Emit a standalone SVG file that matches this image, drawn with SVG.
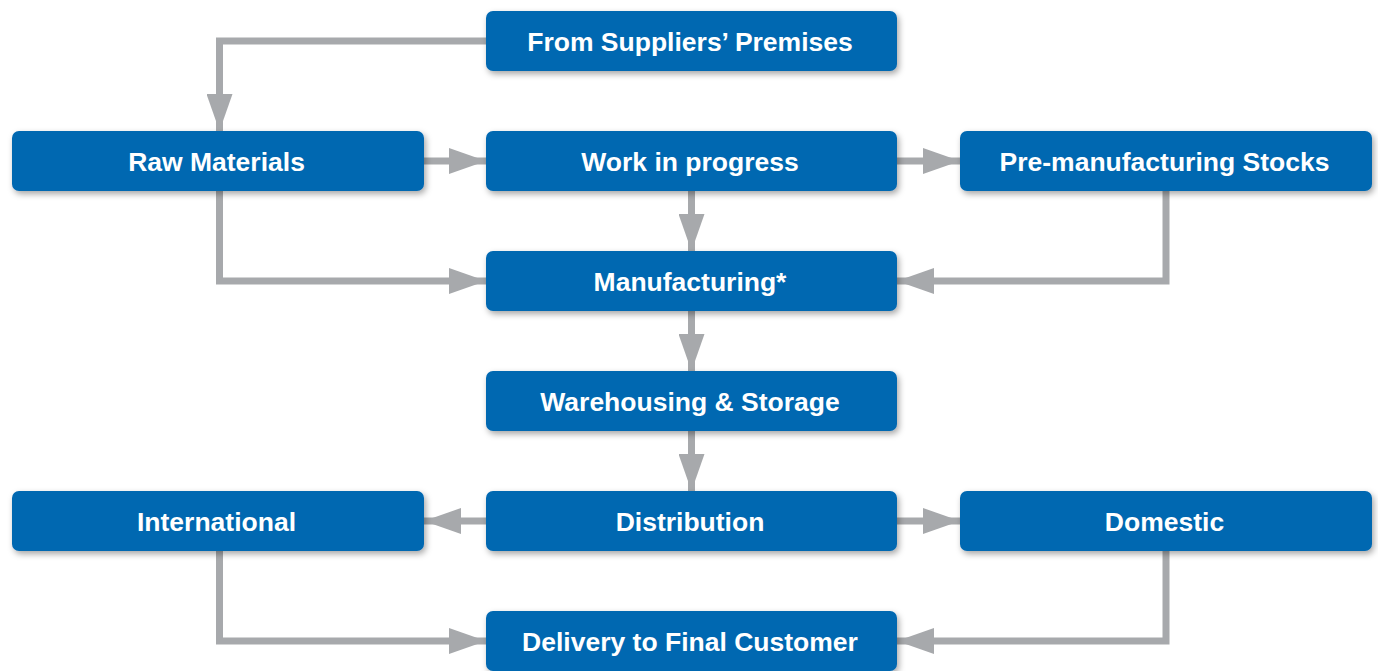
<svg xmlns="http://www.w3.org/2000/svg" width="1378" height="671" viewBox="0 0 1378 671">
<defs>
<filter id="sh" x="-5%" y="-20%" width="110%" height="150%">
<feDropShadow dx="2" dy="3" stdDeviation="3" flood-color="#000" flood-opacity="0.35"/>
</filter>
<marker id="ah" markerUnits="userSpaceOnUse" markerWidth="37" markerHeight="26" refX="37" refY="13" orient="auto">
<path d="M0,0 L37,13 L0,26 Z" fill="#a7a9ac"/>
</marker>
<style>
.box{fill:#0067b1;filter:url(#sh)}
.lbl{fill:#fff;font-family:"Liberation Sans",Arial,sans-serif;font-weight:bold;font-size:26.5px;text-anchor:middle}
.c{fill:none;stroke:#a7a9ac;stroke-width:7;marker-end:url(#ah)}
</style>
</defs>
<g id="connectors">
<path class="c" d="M486,41 H219.5 V131"/>
<path class="c" d="M424,161 H486"/>
<path class="c" d="M897,161 H960"/>
<path class="c" d="M219.5,191 V281 H486"/>
<path class="c" d="M691.5,191 V251"/>
<path class="c" d="M1166,191 V281 H897"/>
<path class="c" d="M691.5,311 V371"/>
<path class="c" d="M691.5,431 V491"/>
<path class="c" d="M486,521 H424"/>
<path class="c" d="M897,521 H960"/>
<path class="c" d="M219.5,551 V641 H486"/>
<path class="c" d="M1166,551 V641 H897"/>
</g>
<g id="suppliers"><rect class="box" x="486" y="11" width="411" height="60" rx="7"/><text class="lbl" x="690" y="50.5">From Suppliers’ Premises</text></g>
<g id="raw"><rect class="box" x="12" y="131" width="412" height="60" rx="7"/><text class="lbl" x="216.5" y="170.5">Raw Materials</text></g>
<g id="wip"><rect class="box" x="486" y="131" width="411" height="60" rx="7"/><text class="lbl" x="690" y="170.5">Work in progress</text></g>
<g id="premanufacturing"><rect class="box" x="960" y="131" width="412" height="60" rx="7"/><text class="lbl" x="1164.5" y="170.5">Pre-manufacturing Stocks</text></g>
<g id="manufacturing"><rect class="box" x="486" y="251" width="411" height="60" rx="7"/><text class="lbl" x="690" y="290.5">Manufacturing*</text></g>
<g id="warehousing"><rect class="box" x="486" y="371" width="411" height="60" rx="7"/><text class="lbl" x="690" y="410.5">Warehousing &amp; Storage</text></g>
<g id="international"><rect class="box" x="12" y="491" width="412" height="60" rx="7"/><text class="lbl" x="216.5" y="530.5">International</text></g>
<g id="distribution"><rect class="box" x="486" y="491" width="411" height="60" rx="7"/><text class="lbl" x="690" y="530.5">Distribution</text></g>
<g id="domestic"><rect class="box" x="960" y="491" width="412" height="60" rx="7"/><text class="lbl" x="1164.5" y="530.5">Domestic</text></g>
<g id="delivery"><rect class="box" x="486" y="611" width="411" height="60" rx="7"/><text class="lbl" x="690" y="650.5">Delivery to Final Customer</text></g>
</svg>
